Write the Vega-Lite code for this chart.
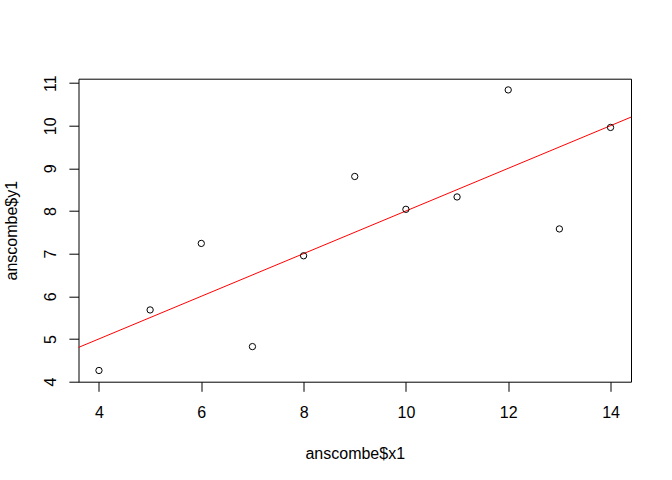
{
  "$schema": "https://vega.github.io/schema/vega-lite/v6.json",
  "width": 552.5,
  "height": 303,
  "autosize": "none",
  "padding": {"left": 78.5, "top": 78.7, "right": 41, "bottom": 98.3},
  "background": "white",
  "config": {
    "view": {"stroke": "black", "strokeWidth": 1},
    "font": "Liberation Sans",
    "axis": {
      "grid": false,
      "domain": false,
      "tickColor": "black",
      "tickSize": 9.6,
      "labelColor": "black",
      "labelFontSize": 16,
      "labelFont": "Liberation Sans",
      "titleFont": "Liberation Sans",
      "titleFontSize": 16,
      "titleFontWeight": "normal",
      "titleColor": "black"
    }
  },
  "datasets": {
    "pts": [
      {"x1": 10, "y1": 8.04},
      {"x1": 8, "y1": 6.95},
      {"x1": 13, "y1": 7.58},
      {"x1": 9, "y1": 8.81},
      {"x1": 11, "y1": 8.33},
      {"x1": 14, "y1": 9.96},
      {"x1": 6, "y1": 7.24},
      {"x1": 4, "y1": 4.26},
      {"x1": 12, "y1": 10.84},
      {"x1": 7, "y1": 4.82},
      {"x1": 5, "y1": 5.68}
    ],
    "fit": [
      {"x1": 3.0, "y1": 4.5004},
      {"x1": 15.0, "y1": 10.5016}
    ]
  },
  "layer": [
    {
      "data": {"name": "fit"},
      "mark": {"type": "line", "color": "red", "strokeWidth": 1, "clip": true},
      "encoding": {
        "x": {"field": "x1", "type": "quantitative"},
        "y": {"field": "y1", "type": "quantitative"}
      }
    },
    {
      "data": {"name": "pts"},
      "mark": {"type": "point", "shape": "circle", "filled": false, "color": "black", "strokeWidth": 1, "size": 40, "opacity": 1},
      "encoding": {
        "x": {
          "field": "x1", "type": "quantitative",
          "scale": {"domain": [3.6, 14.4], "nice": false, "zero": false},
          "axis": {"values": [4, 6, 8, 10, 12, 14], "title": "anscombe$x1", "labelPadding": 13.5, "titlePadding": 25}
        },
        "y": {
          "field": "y1", "type": "quantitative",
          "scale": {"domain": [3.9968, 11.1032], "nice": false, "zero": false},
          "axis": {"values": [4, 5, 6, 7, 8, 9, 10, 11], "title": "anscombe$y1", "labelAngle": -90, "labelAlign": "center", "labelBaseline": "alphabetic", "labelPadding": 13.9, "titlePadding": 23}
        }
      }
    }
  ]
}
